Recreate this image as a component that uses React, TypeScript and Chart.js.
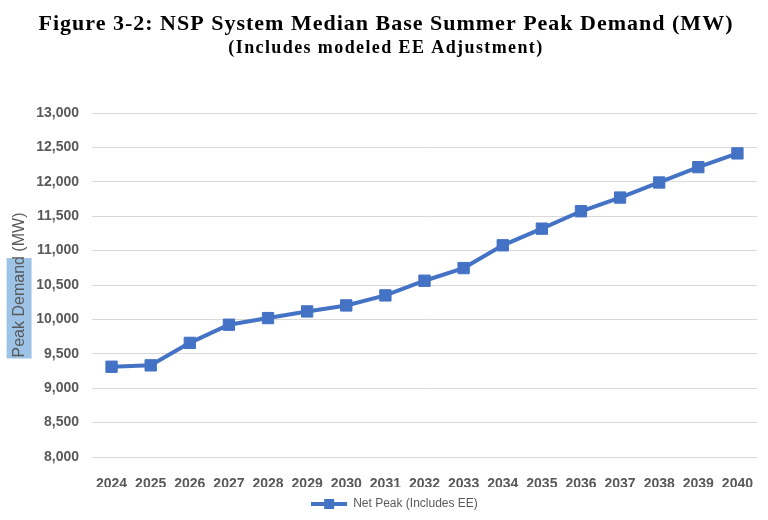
import React, { useEffect, useRef } from "react";
import { Chart, registerables } from "chart.js";

Chart.register(...registerables);

const years = ["2024", "2025", "2026", "2027", "2028", "2029", "2030", "2031", "2032", "2033", "2034", "2035", "2036", "2037", "2038", "2039", "2040"];
const netPeak = [9312, 9332, 9659, 9923, 10019, 10116, 10203, 10349, 10562, 10746, 11077, 11319, 11572, 11771, 11990, 12213, 12413];
const seriesLabel = "Net Peak (Includes EE)";
const titleText = "Figure 3-2: NSP System Median Base Summer Peak Demand (MW)";
const subtitleText = "(Includes modeled EE Adjustment)";
const yTitleText = "Peak Demand (MW)";
const yHighlightText = "Peak Demand";

const BLUE = "#4472C4";
const GRAY = "#595959";
const SANS = "'Liberation Sans', Arial, sans-serif";
const SERIF = "'Liberation Serif', 'Times New Roman', serif";

export default function App() {
  const ref = useRef<HTMLCanvasElement | null>(null);

  useEffect(() => {
    if (!ref.current) return;
    const icon = document.createElement("canvas");
    icon.width = 36;
    icon.height = 12;
    const ictx = icon.getContext("2d");
    if (ictx) {
      ictx.strokeStyle = BLUE;
      ictx.lineWidth = 4;
      ictx.beginPath();
      ictx.moveTo(0, 6);
      ictx.lineTo(36, 6);
      ictx.stroke();
      ictx.fillStyle = BLUE;
      ictx.fillRect(13, 1, 10, 10);
    }

    const yTitleFontSize = 16;
    const highlightPlugin = {
      id: "yTitleHighlight",
      beforeDraw(chart: any) {
        const y = chart.scales.y;
        if (!y) return;
        const ctx = chart.ctx;
        ctx.save();
        ctx.font = `${yTitleFontSize}px ${SANS}`;
        const W = ctx.measureText(yTitleText).width;
        const w1 = ctx.measureText(yHighlightText).width;
        const cy = (y.top + y.bottom) / 2;
        const tx = y.left + yTitleFontSize * 1.2 / 2 + 10;
        ctx.fillStyle = "#9DC3E6";
        ctx.fillRect(tx - 13, cy + W / 2 - w1 + 2, 25, w1 - 1);
        ctx.restore();
      },
    };

    const headingPlugin = {
      id: "heading",
      afterDraw(chart: any) {
        const ctx = chart.ctx;
        const cx = chart.width / 2 + 2;
        ctx.save();
        ctx.fillStyle = "#000";
        ctx.textAlign = "center";
        ctx.textBaseline = "alphabetic";
        (ctx as any).letterSpacing = "1px";
        ctx.font = `bold 22px ${SERIF}`;
        ctx.fillText(titleText, cx, 30);
        (ctx as any).letterSpacing = "1.4px";
        ctx.font = `bold 18px ${SERIF}`;
        ctx.fillText(subtitleText, cx, 53);
        ctx.restore();
      },
    };

    const legendShiftPlugin = {
      id: "legendShift",
      afterLayout(chart: any) {
        if (chart.legend) {
          chart.legend.left += 32;
        }
      },
    };

    const chart = new Chart(ref.current, {
      type: "line",
      data: {
        labels: years,
        datasets: [
          {
            label: seriesLabel,
            data: netPeak,
            borderColor: BLUE,
            backgroundColor: BLUE,
            borderWidth: 4,
            pointStyle: "rect",
            pointRadius: 8,
            pointBorderWidth: 1,
            pointBackgroundColor: BLUE,
            pointBorderColor: BLUE,
            tension: 0,
          },
        ],
      },
      options: {
        responsive: false,
        animation: false,
        layout: { padding: { left: 0, right: 11, top: 113, bottom: 0 } },
        plugins: {
          title: { display: false },
          subtitle: { display: false },
          legend: {
            display: true,
            position: "bottom",
            labels: {
              usePointStyle: true,
              pointStyleWidth: 36,
              color: GRAY,
              font: { family: SANS, size: 12 },
              padding: 11,
              generateLabels: () => [
                {
                  text: seriesLabel,
                  pointStyle: icon as any,
                  fillStyle: BLUE,
                  strokeStyle: BLUE,
                  lineWidth: 0,
                  hidden: false,
                  datasetIndex: 0,
                  fontColor: GRAY,
                },
              ],
            },
          },
          tooltip: { enabled: false },
        },
        scales: {
          x: {
            type: "category",
            offset: true,
            grid: { display: false },
            border: { display: false },
            ticks: {
              color: GRAY,
              font: { family: SANS, size: 14, weight: "bold" },
              padding: 11,
              maxRotation: 0,
              autoSkip: false,
            },
            afterFit: (s: any) => {
              s.height = 30;
            },
          },
          y: {
            min: 8000,
            max: 13000,
            grid: { color: "#D9D9D9", lineWidth: 1, drawTicks: false },
            border: { display: false },
            ticks: {
              stepSize: 500,
              color: GRAY,
              font: { family: SANS, size: 14, weight: "bold" },
              padding: 13,
              callback: (v: any) => Number(v).toLocaleString("en-US"),
            },
            title: {
              display: true,
              text: yTitleText,
              color: GRAY,
              font: { family: SANS, size: yTitleFontSize },
              padding: { top: 10, bottom: 0 },
            },
            afterFit: (s: any) => {
              s.width = 92;
            },
          },
        },
      } as any,
      plugins: [highlightPlugin, headingPlugin, legendShiftPlugin],
    });
    return () => chart.destroy();
  }, []);

  return (
    <div style={{ position: "absolute", left: 0, top: 0, width: 768, height: 520, background: "#fff" }}>
      <canvas ref={ref} width={768} height={520} />
    </div>
  );
}
